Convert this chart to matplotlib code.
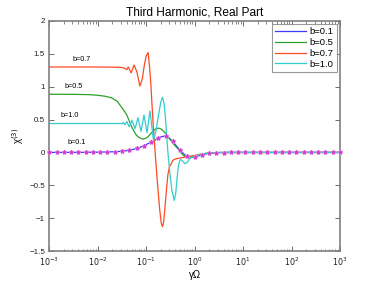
import numpy as np
import matplotlib
matplotlib.use('Agg')
import matplotlib.pyplot as plt
from matplotlib.ticker import LogLocator, NullFormatter

plt.rcParams['font.family'] = ['Liberation Sans', 'DejaVu Sans']

# log10(gamma*Omega) and chi^(3)
lg_b01 = [-3, -2.4, -2.0, -1.8, -1.6, -1.45, -1.3, -1.15, -1.0, -0.9, -0.8, -0.7, -0.62,
          -0.55, -0.47, -0.4, -0.32, -0.25, -0.18, -0.1, -0.03, 0.05, 0.13, 0.22, 0.3, 0.45, 0.6, 3]
y_b01 = [0, 0.001, 0.004, 0.007, 0.013, 0.022, 0.04, 0.07, 0.12, 0.155, 0.195, 0.235, 0.25,
         0.235, 0.18, 0.12, 0.05, -0.005, -0.05, -0.065, -0.068, -0.058, -0.042, -0.025, -0.012, -0.004, 0, 0]

lg_b05 = [-3, -2.5, -2.2, -2.0, -1.85, -1.71, -1.6, -1.54, -1.47, -1.40, -1.35, -1.30, -1.25,
          -1.20, -1.15, -1.10, -1.06, -1.01, -0.96, -0.90, -0.85, -0.80, -0.75, -0.70, -0.65,
          -0.60, -0.55, -0.50, -0.45, -0.40, -0.35, -0.30, -0.25, -0.20, -0.15, -0.10, -0.05,
          0.0, 0.1, 0.2, 0.3, 0.45, 0.6, 3]
y_b05 = [0.885, 0.884, 0.88, 0.87, 0.855, 0.83, 0.78, 0.72, 0.65, 0.57, 0.48, 0.39, 0.32,
         0.26, 0.23, 0.21, 0.205, 0.215, 0.24, 0.29, 0.33, 0.36, 0.37, 0.36, 0.33,
         0.29, 0.24, 0.19, 0.14, 0.10, 0.06, 0.01, -0.03, -0.065, -0.085, -0.085, -0.075,
         -0.06, -0.035, -0.018, -0.008, -0.002, 0, 0]

lg_b07 = [-3, -2, -1.6, -1.48, -1.44, -1.40, -1.37, -1.31, -1.25, -1.19, -1.13, -1.08, -1.04,
          -1.0, -0.96, -0.93, -0.90, -0.886, -0.853, -0.818, -0.78, -0.75, -0.72, -0.69, -0.665,
          -0.64, -0.61, -0.58, -0.55, -0.52, -0.49, -0.45, -0.40, -0.30, -0.20, -0.10, 0.0,
          0.1, 0.2, 0.35, 0.5, 3]
y_b07 = [1.30, 1.30, 1.297, 1.29, 1.28, 1.26, 1.30, 1.21, 1.33, 1.22, 1.01, 1.12, 1.32,
         1.47, 1.52, 1.30, 1.0, 0.8, 0.39, 0.03, -0.35, -0.62, -0.88, -1.07, -1.13,
         -1.06, -0.82, -0.55, -0.33, -0.22, -0.18, -0.12, -0.10, -0.085, -0.072, -0.06, -0.045,
         -0.03, -0.018, -0.008, -0.002, 0]

lg_b10 = [-3, -2, -1.52, -1.50, -1.47, -1.44, -1.40, -1.35, -1.293, -1.231, -1.169, -1.107,
          -1.045, -0.983, -0.922, -0.849, -0.80, -0.75, -0.70, -0.664, -0.63, -0.60, -0.577,
          -0.54, -0.509, -0.47, -0.42, -0.39, -0.36, -0.337, -0.31, -0.288, -0.25, -0.2,
          -0.15, -0.097, -0.05, 0.04, 0.1, 0.2, 0.3, 0.45, 0.6, 3]
y_b10 = [0.44, 0.44, 0.44, 0.435, 0.455, 0.42, 0.47, 0.39, 0.49, 0.36, 0.53, 0.32,
         0.57, 0.30, 0.63, 0.18, 0.32, 0.55, 0.76, 0.84, 0.74, 0.50, 0.24,
         -0.10, -0.32, -0.58, -0.73, -0.62, -0.37, -0.22, -0.13, -0.107, -0.13, -0.17,
         -0.15, -0.09, -0.07, -0.055, -0.032, -0.018, -0.008, -0.002, 0, 0]

lg_mark = [-3.0, -2.85, -2.7, -2.55, -2.4, -2.25, -2.1, -1.95, -1.8, -1.65, -1.5, -1.35, -1.2,
           -1.05, -0.9, -0.75, -0.6, -0.45, -0.3, -0.15, 0.0, 0.15, 0.3, 0.45, 0.6, 0.75, 0.9,
           1.05, 1.2, 1.35, 1.5, 1.65, 1.8, 1.95, 2.1, 2.25, 2.4, 2.55, 2.7, 2.85, 3.0]
y_mark = [0, 0, 0, 0, 0.001, 0.002, 0.003, 0.005, 0.007, 0.011, 0.018, 0.032, 0.06,
          0.10, 0.155, 0.215, 0.25, 0.17, 0.04, -0.06, -0.067, -0.04, -0.012, -0.004, -0.001, 0, 0,
          0, 0, 0, 0, 0, 0, 0, 0, 0, 0, 0, 0, 0, 0]

labels = ['b=0.1', 'b=0.5', 'b=0.7', 'b=1.0']
colors = ['#3b3bff', '#2ca02c', '#ff4a26', '#33cccc']

fig = plt.figure(figsize=(3.75, 2.83), dpi=100)
ax = fig.add_axes([0.1315, 0.113, 0.775, 0.8128])

series = [(lg_b01, y_b01), (lg_b05, y_b05), (lg_b07, y_b07), (lg_b10, y_b10)]
for (lg, y), lab, c in zip(series, labels, colors):
    ax.plot(np.power(10.0, lg), y, color=c, lw=0.9, label=lab)

ax.plot(np.power(10.0, lg_mark), y_mark, ls='none', marker='o', ms=3.4,
        color='#f2a6f2', mec='none', clip_on=False, zorder=4)
ax.plot(np.power(10.0, lg_mark), y_mark, ls='none', marker='*', ms=3.4,
        color='#cc33cc', mec='#cc33cc', mew=0.3, clip_on=False, zorder=5)

ax.set_xscale('log')
ax.set_xlim(1e-3, 1e3)
ax.set_ylim(-1.5, 2)
ax.set_yticks([-1.5, -1, -0.5, 0, 0.5, 1, 1.5, 2])
ax.set_yticklabels(['\u22121.5', '\u22121', '\u22120.5', '0', '0.5', '1', '1.5', '2'])
ax.set_xticks([1e-3, 1e-2, 1e-1, 1e0, 1e1, 1e2, 1e3])
ax.set_xticklabels([r'$10^{-3}$', r'$10^{-2}$', r'$10^{-1}$', r'$10^{0}$',
                    r'$10^{1}$', r'$10^{2}$', r'$10^{3}$'])
ax.xaxis.set_minor_locator(LogLocator(base=10, subs=np.arange(2, 10), numticks=20))
ax.xaxis.set_minor_formatter(NullFormatter())

ax.tick_params(which='both', direction='in', top=True, right=True, labelsize=5.8,
               colors='#222222', pad=3)
ax.tick_params(which='major', length=3.5, width=0.6, color='#555555')
ax.tick_params(which='minor', length=1.8, width=0.5, color='#555555')
for s in ax.spines.values():
    s.set_color('#808080')
    s.set_linewidth(1.2)

ax.set_title('Third Harmonic, Real Part', fontsize=8.6, pad=4)
ax.set_xlabel('\u03b3\u03a9', fontsize=7, labelpad=2)
ax.set_ylabel('\u03c7$^{(3)}$', fontsize=7, labelpad=2)

# curve labels
ax.text(10**-2.325, 1.415, 'b=0.7', fontsize=5.2, ha='center', va='center')
ax.text(10**-2.49, 1.0, 'b=0.5', fontsize=5.2, ha='center', va='center')
ax.text(10**-2.583, 0.568, 'b=1.0', fontsize=5.2, ha='center', va='center')
ax.text(10**-2.435, 0.146, 'b=0.1', fontsize=5.2, ha='center', va='center')

leg = ax.legend(loc='upper right', fontsize=6.8, frameon=True, fancybox=False,
                handlelength=3.3, handletextpad=0.4, borderpad=0.35, labelspacing=0.2,
                borderaxespad=0.3)
leg.get_frame().set_edgecolor('#808080')
leg.get_frame().set_linewidth(0.8)

fig.savefig('out.png', dpi=100)
